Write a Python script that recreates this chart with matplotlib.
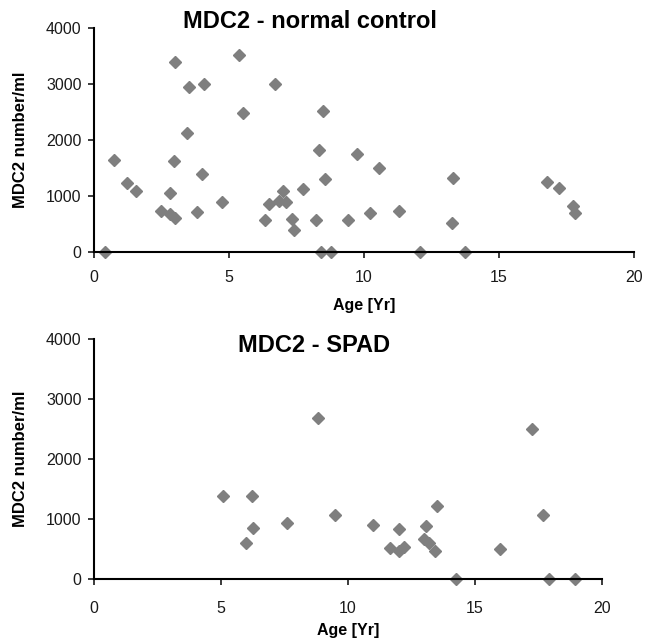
import matplotlib
matplotlib.use('Agg')
import matplotlib.pyplot as plt

plt.rcParams['font.family'] = ['Liberation Sans', 'DejaVu Sans']

# normal control
ctrl_age = [0.42, 0.74, 1.24, 1.57, 2.47, 2.81, 2.8, 3.01, 2.98, 3.01, 3.5, 3.43, 4.07, 3.99, 3.83,
            4.73, 5.37, 5.52, 6.7, 6.32, 6.48, 6.85, 7.0, 7.1, 7.33, 7.42, 7.74, 8.32, 8.23, 8.4,
            8.47, 8.54, 8.77, 9.41, 9.74, 10.23, 10.57, 11.31, 12.07, 13.31, 13.25, 13.73,
            16.79, 17.22, 17.74, 17.82]
ctrl_mdc2 = [0, 1637, 1230, 1081, 729, 1057, 680, 3391, 1630, 600, 2949, 2120, 3003, 1385, 716,
             896, 3516, 2483, 3003, 573, 866, 910, 1090, 900, 597, 388, 1128, 1827, 573, 0,
             2520, 1302, 0, 573, 1749, 693, 1504, 734, 0, 1325, 526, 0,
             1253, 1140, 824, 705]

# SPAD
spad_age = [5.08, 6.21, 6.26, 6.0, 7.59, 8.82, 9.5, 10.98, 12.0, 11.64, 12.0, 12.2, 13.09, 12.98,
            13.2, 13.43, 13.49, 14.25, 16.0, 17.24, 17.68, 17.9, 18.94]
spad_mdc2 = [1388, 1377, 843, 600, 933, 2677, 1072, 893, 833, 517, 460, 533, 888, 667,
             600, 460, 1222, 0, 500, 2500, 1072, 0, 0]

W, H = 646, 640
fig = plt.figure(figsize=(W / 100, H / 100), dpi=100)


def make_axes(left, right, top, bottom, xpad):
    ax = fig.add_axes([left / W, 1 - bottom / H, (right - left) / W, (bottom - top) / H])
    ax.set_xlim(0, 20)
    ax.set_ylim(0, 4000)
    ax.set_xticks([0, 5, 10, 15, 20])
    ax.set_yticks([0, 1000, 2000, 3000, 4000])
    for s in ['top', 'right']:
        ax.spines[s].set_visible(False)
    for s in ['left', 'bottom']:
        ax.spines[s].set_linewidth(1.5)
    ax.tick_params(direction='out', length=4, width=1.2, labelsize=11.5, colors='#1a1a1a')
    ax.tick_params(axis='x', pad=xpad)
    ax.tick_params(axis='y', pad=5)
    ax.set_ylabel('MDC2 number/ml', fontsize=12, fontweight='bold', labelpad=13)
    return ax


ax1 = make_axes(94, 634, 28, 252, 9)
ax1.plot(ctrl_age, ctrl_mdc2, 'D', color='#7f7f7f', markersize=6, clip_on=False)
ax1.set_xlabel('Age [Yr]', fontsize=11.5, fontweight='bold', labelpad=9)
fig.text(310 / W, 1 - 22 / H, 'MDC2 - normal control', ha='center', va='center',
         fontsize=17, fontweight='bold')

ax2 = make_axes(94, 602, 339, 579, 12)
ax2.plot(spad_age, spad_mdc2, 'D', color='#7f7f7f', markersize=6, clip_on=False)
ax2.set_xlabel('Age [Yr]', fontsize=11.5, fontweight='bold', labelpad=5)
fig.text(314 / W, 1 - 346 / H, 'MDC2 - SPAD', ha='center', va='center',
         fontsize=17, fontweight='bold')

fig.savefig('out.png', dpi=100)
